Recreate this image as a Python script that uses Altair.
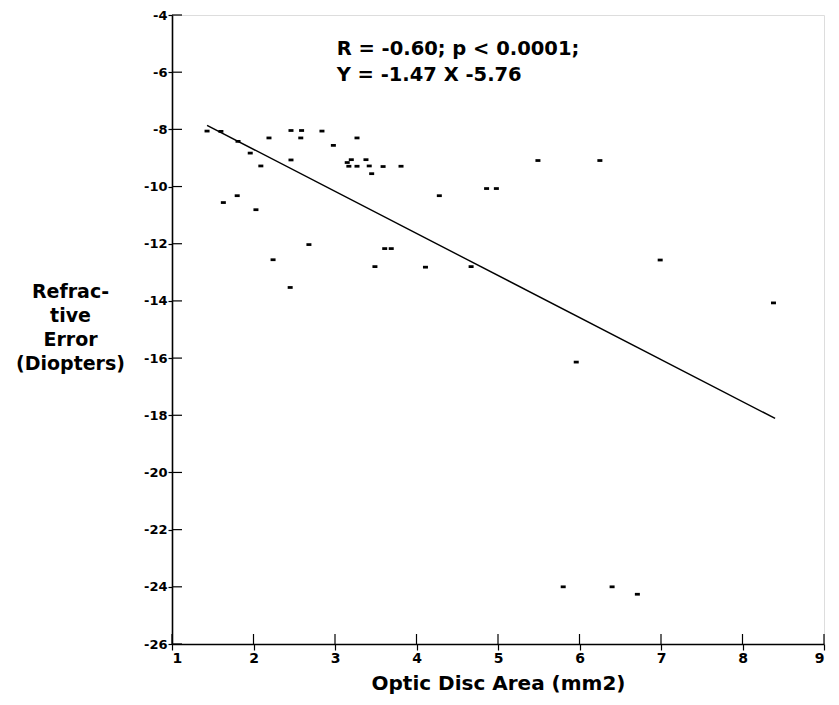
import altair as alt
import pandas as pd

# Scatter data
disc_area = [1.43, 1.60, 1.81, 1.96, 2.09, 2.19, 2.46, 2.59, 2.58, 2.84, 2.98, 3.27,
             3.15, 3.20, 3.17, 3.27, 3.38, 3.42, 3.45, 3.59, 3.81, 2.46, 1.63, 1.80,
             2.03, 2.68, 2.24, 2.45, 3.61, 3.69, 3.49, 4.11, 4.67, 4.28, 4.86, 4.98,
             5.49, 6.25, 6.99, 8.38, 5.96, 5.80, 6.40, 6.71]
refr_error = [-8.06, -8.07, -8.42, -8.83, -9.28, -8.30, -8.04, -8.04, -8.30, -8.06, -8.56, -8.30,
              -9.16, -9.06, -9.29, -9.29, -9.06, -9.28, -9.55, -9.30, -9.29, -9.07, -10.56, -10.32,
              -10.81, -12.03, -12.56, -13.53, -12.17, -12.17, -12.80, -12.82, -12.80, -10.32, -10.07, -10.07,
              -9.09, -9.09, -12.57, -14.07, -16.14, -24.00, -24.00, -24.26]

# Regression line end points
line_x = [1.43, 8.40]
line_y = [-7.86, -18.11]

x_ticks = [1, 2, 3, 4, 5, 6, 7, 8, 9]
y_ticks = [-4, -6, -8, -10, -12, -14, -16, -18, -20, -22, -24, -26]

note_text = ["R = -0.60; p < 0.0001;\nY = -1.47 X -5.76"]
note_x = [3.02]
note_y = [-4.88]

W, H = 652, 629
FONT = "DejaVu Sans"

pts = pd.DataFrame({"x": disc_area, "y": refr_error})
ln = pd.DataFrame({"x": line_x, "y": line_y})
xt = pd.DataFrame({"xv": [float(v) for v in x_ticks], "yv": [-26.0] * len(x_ticks)})
yt = pd.DataFrame({"xv": [1.0] * len(y_ticks), "yv": [float(v) for v in y_ticks]})
note = pd.DataFrame({"x": note_x, "y": note_y, "t": note_text})

xscale = alt.Scale(domain=[1, 9], nice=False, zero=False)
yscale = alt.Scale(domain=[-26, -4], nice=False, zero=False)

xaxis = alt.Axis(values=x_ticks, title="Optic Disc Area (mm2)", grid=False,
                 labelExpr="datum.value + ''",
                 labelFont=FONT, labelFontWeight="bold", labelFontSize=14, labelColor="black",
                 labelPadding=1, tickSize=6, tickColor="black", tickWidth=1.2,
                 domainColor="black", domainWidth=1.6,
                 titleFont=FONT, titleFontWeight="bold", titleFontSize=20, titleColor="black",
                 titleBaseline="bottom", titleY=49)
yaxis = alt.Axis(values=y_ticks, title=["Refrac-", "tive", "Error", "(Diopters)"], grid=False,
                 labelExpr="datum.value + ''",
                 labelFont=FONT, labelFontWeight="bold", labelFontSize=13, labelColor="black",
                 labelPadding=1, tickSize=4, tickColor="black", tickWidth=1.2,
                 domainColor="black", domainWidth=1.6,
                 titleFont=FONT, titleFontWeight="bold", titleFontSize=19, titleColor="black",
                 titleAngle=0, titleAlign="center", titleBaseline="top",
                 titleX=-102, titleY=267, titleLineHeight=24)

points = alt.Chart(pts).mark_point(
    shape="M-1,-0.55H1V0.55H-1Z", size=25, filled=True, color="black", opacity=1, strokeWidth=0
).encode(
    x=alt.X("x:Q", scale=xscale, axis=xaxis),
    y=alt.Y("y:Q", scale=yscale, axis=yaxis),
)

line = alt.Chart(ln).mark_line(color="black", strokeWidth=1.4).encode(
    x=alt.X("x:Q", scale=xscale), y=alt.Y("y:Q", scale=yscale)
)

# inner halves of the crossing tick marks
xin = alt.Chart(xt).mark_point(
    shape="M0,0V-1", size=400, filled=False, color="black", strokeWidth=1.2, opacity=1
).encode(x=alt.X("xv:Q", scale=xscale), y=alt.Y("yv:Q", scale=yscale))
yin = alt.Chart(yt).mark_point(
    shape="M0,0H1", size=400, filled=False, color="black", strokeWidth=1.2, opacity=1
).encode(x=alt.X("xv:Q", scale=xscale), y=alt.Y("yv:Q", scale=yscale))

txt = alt.Chart(note).mark_text(
    align="left", baseline="top", font=FONT, fontWeight="bold", fontSize=19.5,
    lineBreak="\n", lineHeight=26, color="black"
).encode(x=alt.X("x:Q", scale=xscale), y=alt.Y("y:Q", scale=yscale), text="t:N")

chart = alt.layer(line, points, xin, yin, txt).properties(
    width=W, height=H,
    autosize=alt.AutoSizeParams(type="none"),
    padding={"left": 164, "top": 7, "right": 5, "bottom": 52}
).configure_view(stroke=None).configure(background="white")

chart.save("out.html", embed_options={"renderer": "svg", "actions": False})
